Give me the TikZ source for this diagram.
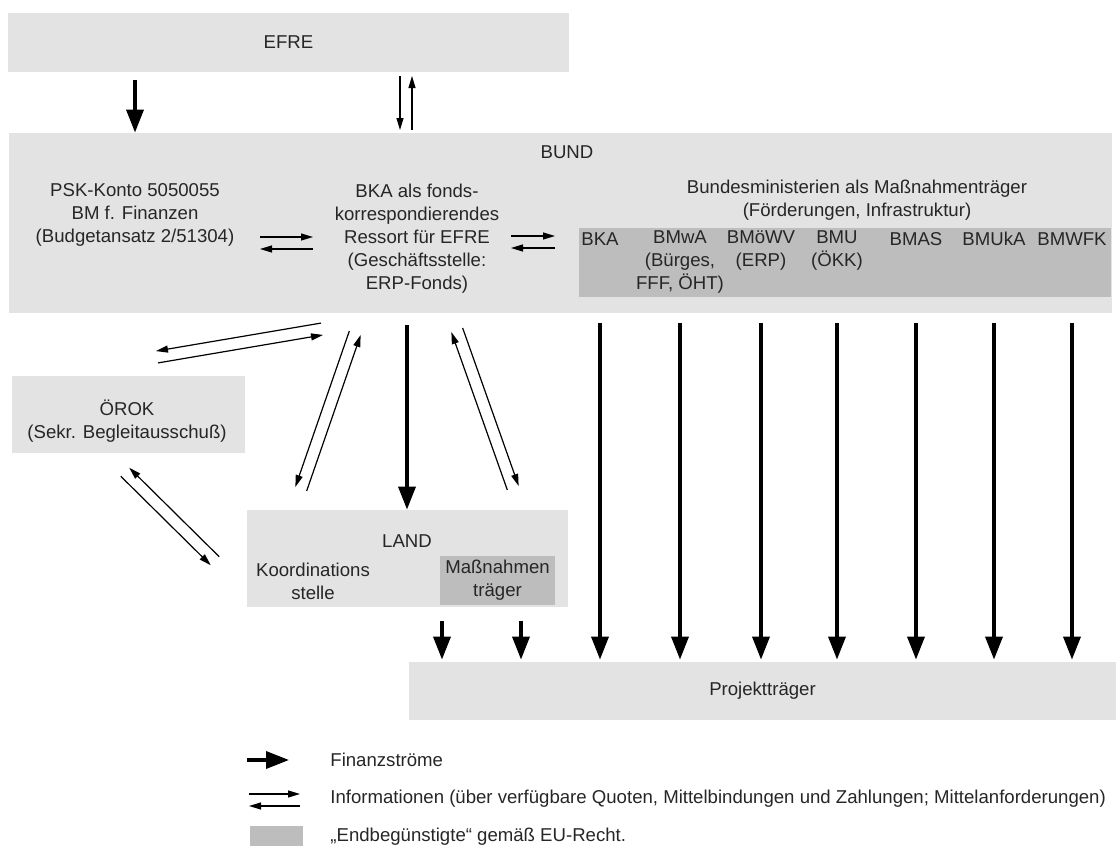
\documentclass[tikz,border=0pt]{standalone}
\usepackage{fontspec}
\setmainfont{Liberation Sans}
\usetikzlibrary{arrows.meta, calc}
\definecolor{boxgray}{gray}{0.89}
\definecolor{endgray}{gray}{0.74}
% two thin arrows side by side, #3 is half the gap (sign picks the side)
\newcommand{\infopair}[3]{%
  \draw  [info]  ($(#1)!#3!90:(#2)$)  --  ($(#2)!#3!-90:(#1)$);
  \draw  [info]  ($(#2)!#3!90:(#1)$)  --  ($(#1)!#3!-90:(#2)$);
}
\begin{document}
\begin{tikzpicture}[
    x = 0.5pt, y = -0.5pt,
    font = \fontsize{9.3}{11.5}\selectfont, text = black!85,
    box/.style = {
      rectangle, fill = boxgray, inner sep = 0pt, align = center
    },
    endbox/.style = {
      rectangle, fill = endgray, inner sep = 0pt, align = center
    },
    txt/.style = {
      inner sep = 0pt, align = center
    },
    minlabel/.style = {
      txt, anchor = north, execute at begin node = {\vphantom{Ö}}
    },
    fin/.style = {
      line width = 1.8pt, -{Triangle[width = 8.5pt, length = 11.5pt]}
    },
    info/.style = {
      line width = 0.6pt, -{Triangle[width = 3.5pt, length = 6pt]}
    },
    ]
\useasboundingbox  (0,0)  rectangle  (1116,846);

% boxes
\node  [box, minimum width = 280.5pt, minimum height = 29.5pt]  (efre)  at  (288.5,42.5)  {EFRE};
\node  [box, minimum width = 551.5pt, minimum height = 90pt]  (bund)  at  (560.5,223)  {};
\node  [box, minimum width = 116.5pt, minimum height = 38.5pt]  (oerok)  at  (128.5,414.5)  {};
\node  [box, minimum width = 160.5pt, minimum height = 48.5pt]  (land)  at  (407.5,558.5)  {};
\node  [box, minimum width = 353.5pt, minimum height = 29pt]  (proj)  at  (762.5,691)  {Projektträger};
\node  [endbox, minimum width = 266pt, minimum height = 34.5pt]  (mt)  at  (845,262.5)  {};
\node  [endbox, minimum width = 57.5pt, minimum height = 24.5pt]  (mass)  at  (497.5,580.5)  {Maßnahmen\\träger};

% texts
\node  [txt]  (bundlabel)  at  (567,152)  {BUND};
\node  [txt]  (psk)  at  (135,215)  {PSK-Konto 5050055\\BM f. Finanzen\\(Budgetansatz 2/51304)};
\node  [txt]  (bka)  at  (417,238.5)  {BKA als fonds-\\korrespondierendes\\Ressort für EFRE\\(Geschäftsstelle:\\ERP-Fonds)};
\node  [txt]  (bm)  at  (857,200)  {Bundesministerien als Maßnahmenträger\\(Förderungen, Infrastruktur)};
\node  [txt]  (oeroklabel)  at  (127,421)  {ÖROK\\(Sekr. Begleitausschuß)};
\node  [txt]  (landlabel)  at  (407,541)  {LAND};
\node  [txt]  (koord)  at  (313,581.5)  {Koordinations\\stelle};

% ministries
\node  [minlabel]  (mBKA)  at  (600,230)  {BKA};
\node  [minlabel]  (mBMwA)  at  (680,230)  {BMwA\\(Bürges,\\FFF, ÖHT)};
\node  [minlabel]  (mBMoeWV)  at  (761,230)  {BMöWV\\(ERP)};
\node  [minlabel]  (mBMU)  at  (837,230)  {BMU\\(ÖKK)};
\node  [minlabel]  (mBMAS)  at  (916,230)  {BMAS};
\node  [minlabel]  (mBMUkA)  at  (994,230)  {BMUkA};
\node  [minlabel]  (mBMWFK)  at  (1072,230)  {BMWFK};

% finance flows
\draw  [fin]  ($(efre.south -| psk)+(0,8)$)  --  (bund.north -| psk);
\draw  [fin]  ($(bund.south -| landlabel)+(0,12)$)  --  (land.north -| landlabel);
\foreach \m in {mBKA, mBMwA, mBMoeWV, mBMU, mBMAS, mBMUkA, mBMWFK}
  \draw  [fin]  ($(bund.south -| \m)+(0,10)$)  --  ($(proj.north -| \m)+(0,-2)$);
\foreach \dx in {-55.5, 23.5}
  \draw  [fin]  ($(land.south -| mass)+(\dx,14)$)  --  ($(proj.north -| mass)+(\dx,-2)$);

% information flows
\coordinate  (e1)  at  (406,76);
\coordinate  (e2)  at  (406,130);
\coordinate  (p1)  at  (260,243);
\coordinate  (p2)  at  (313,243);
\coordinate  (k1)  at  (511,242);
\coordinate  (k2)  at  (555,242);
\coordinate  (o1)  at  (322,329);
\coordinate  (o2)  at  (157,357);
\coordinate  (c1)  at  (355,333);
\coordinate  (c2)  at  (301,489);
\coordinate  (t1)  at  (457,330);
\coordinate  (t2)  at  (513,488);
\coordinate  (l1)  at  (125,472);
\coordinate  (l2)  at  (215,561);
\infopair{e1}{e2}{-3pt}
\infopair{p1}{p2}{3pt}
\infopair{k1}{k2}{3pt}
\infopair{o1}{o2}{-3pt}
\infopair{c1}{c2}{-3pt}
\infopair{t1}{t2}{3pt}
\infopair{l1}{l2}{-3pt}

% legend
\coordinate  (lf1)  at  (247,760);
\coordinate  (lf2)  at  (289,760);
\draw  [fin]  (lf1)  --  (lf2);
\node  [txt, anchor = west]  (lfin)  at  (330,760)  {Finanzströme};
\coordinate  (li1)  at  (249,800);
\coordinate  (li2)  at  (300,800);
\infopair{li1}{li2}{3pt}
\node  [txt, anchor = west]  (linfo)  at  (330,799)  {Informationen (über verfügbare Quoten, Mittelbindungen und Zahlungen; Mittelanforderungen)};
\node  [endbox, minimum width = 26.5pt, minimum height = 10pt]  (lend)  at  (276.5,836)  {};
\node  [txt, anchor = west]  (lendtxt)  at  (330,837)  {„Endbegünstigte“ gemäß EU-Recht.};
\end{tikzpicture}
\end{document}
